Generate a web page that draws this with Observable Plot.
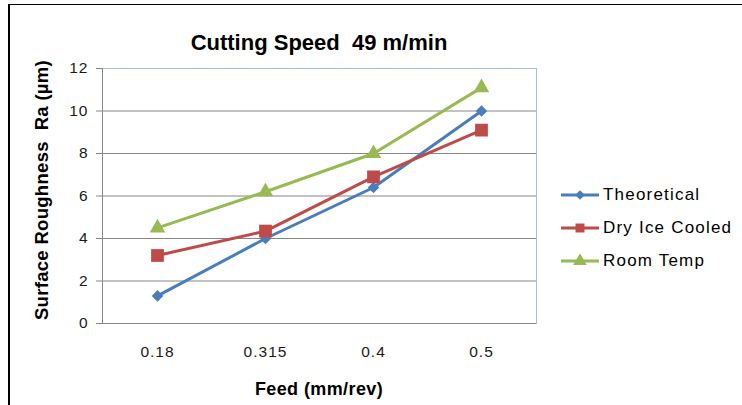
<!DOCTYPE html>
<html>
<head>
<meta charset="utf-8">
<script src="https://cdn.jsdelivr.net/npm/d3@7"></script>
<script src="https://cdn.jsdelivr.net/npm/@observablehq/plot@0.6"></script>
<style>
  body { margin: 0; background: #fff; }
  #wrap { position: relative; width: 742px; height: 405px; overflow: hidden; font-family: "Liberation Sans", Arial, sans-serif; }
  #border { position: absolute; left: 8px; top: 4px; width: 740px; height: 420px; border-left: 2px solid #000; border-top: 1px solid #000; box-sizing: border-box; }
  .lbl { position: absolute; color: #000; white-space: nowrap; line-height: 1; }
  #title { left: 0; width: 638px; top: 32px; text-align: center; font-size: 22px; font-weight: bold; }
  #xlab { left: 0; width: 638px; top: 380px; text-align: center; font-size: 18px; font-weight: bold; letter-spacing: 0.4px; }
  #ylab { left: 42px; top: 190px; font-size: 18.5px; font-weight: bold; letter-spacing: 0.3px; transform: translate(-50%, -50%) rotate(-90deg); }
  #legend { position: absolute; left: 560px; top: 178px; font-size: 17px; letter-spacing: 1.2px; }
  .row { display: flex; align-items: center; height: 33px; }
  .row svg { margin-right: 3px; }
  #chart { position: absolute; left: 0; top: 0; }
  #chart svg text { font-size: 15.5px !important; letter-spacing: 1px; }
</style>
</head>
<body>
<div id="wrap">
  <div id="border"></div>
  <div id="chart"></div>
  <div class="lbl" id="title">Cutting Speed&nbsp;&nbsp;49 m/min</div>
  <div class="lbl" id="xlab">Feed (mm/rev)</div>
  <div class="lbl" id="ylab">Surface Roughness&nbsp;&nbsp;Ra (µm)</div>
  <div id="legend"></div>
</div>
<script>
const feeds = ["0.18", "0.315", "0.4", "0.5"];
const seriesNames = ["Theoretical", "Dry Ice Cooled", "Room Temp"];
const theoretical = [1.3, 4.0, 6.4, 10.0];
const dryIceCooled = [3.2, 4.35, 6.9, 9.1];
const roomTemp = [4.5, 6.2, 8.0, 11.1];
const yTicks = [0, 2, 4, 6, 8, 10, 12];

const colors = ["#4a7ebb", "#be4b48", "#98b954"];
const symbols = [d3.symbolDiamond2, d3.symbolSquare, d3.symbolTriangle];
const radii = [5.2, 7.2, 5.8];
const valuesBySeries = [theoretical, dryIceCooled, roomTemp];

const data = [];
seriesNames.forEach((s, i) => feeds.forEach((f, j) => data.push({series: s, feed: f, value: valuesBySeries[i][j]})));

const marks = [
  Plot.frame({stroke: "#a7bfde"}),
  Plot.ruleY(yTicks.filter(t => t < 12), {stroke: "#868686", strokeWidth: 1}),
  Plot.frame({anchor: "left", stroke: "#868686"}),
  Plot.axisY({ticks: yTicks, tickSize: 6, tickPadding: 8, stroke: "#868686", fill: "#1a1a1a", label: null}),
  Plot.axisX({tickSize: 0, tickPadding: 22, fill: "#1a1a1a", label: null})
];
seriesNames.forEach((s, i) => {
  const d = data.filter(r => r.series === s);
  marks.push(Plot.line(d, {x: "feed", y: "value", stroke: colors[i], strokeWidth: 3}));
});
seriesNames.forEach((s, i) => {
  const d = data.filter(r => r.series === s);
  marks.push(Plot.dot(d, {x: "feed", y: "value", fill: colors[i], stroke: "none", symbol: symbols[i], r: radii[i]}));
});

const chart = Plot.plot({
  width: 742,
  height: 405,
  marginLeft: 102,
  marginRight: 206,
  marginTop: 68,
  marginBottom: 82,
  style: {fontFamily: "Liberation Sans, Arial, sans-serif", fontSize: "15px", background: "transparent"},
  x: {type: "point", domain: feeds, padding: 0.5, axis: null},
  y: {domain: [0, 12], axis: null},
  marks
});
document.getElementById("chart").appendChild(chart);

const legend = document.getElementById("legend");
seriesNames.forEach((s, i) => {
  const row = document.createElement("div");
  row.className = "row";
  const sym = d3.symbol().type(symbols[i]).size(i === 0 ? 60 : 80)();
  row.innerHTML = `<svg width="40" height="14"><line x1="1" x2="39" y1="7" y2="7" stroke="${colors[i]}" stroke-width="3"/><path transform="translate(20,7)" d="${sym}" fill="${colors[i]}"/></svg><span>${s}</span>`;
  legend.appendChild(row);
});
</script>
</body>
</html>
